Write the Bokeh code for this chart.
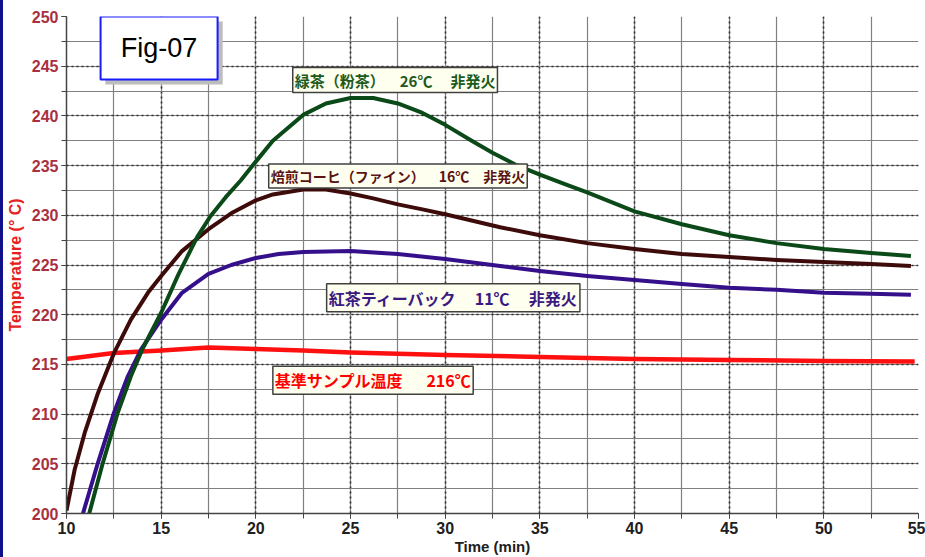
from bokeh.plotting import figure
from bokeh.embed import file_html
from bokeh.resources import INLINE
from bokeh.layouts import row
from bokeh.models import Range1d, SingleIntervalTicker, Label, BoxAnnotation, Div

# ---------------- data ----------------
green_t = [11.2, 11.92, 12.7, 13.4, 14.0, 15.0, 15.9, 16.9, 17.6, 18.4, 19.2, 20.0, 20.9, 22.5,
           23.7, 25.0, 26.2, 27.5, 28.8, 30.0, 31.4, 32.5, 33.7, 35.0, 36.5, 37.5, 40.0, 42.5,
           45.0, 47.5, 50.0, 52.5, 54.6]
green_T = [200.0, 205.1, 210.1, 213.8, 216.5, 220.2, 224.0, 227.8, 229.9, 231.8, 233.5, 235.4, 237.5, 240.1,
           241.25, 241.8, 241.8, 241.25, 240.3, 239.1, 237.5, 236.3, 235.1, 234.1, 233.0, 232.3, 230.4, 229.1,
           228.0, 227.2, 226.6, 226.2, 225.9]

brown_t = [10.0, 10.43, 10.96, 11.66, 12.5, 13.4, 14.3, 15.0, 16.1, 17.5, 18.7, 20.0, 20.9, 22.5,
           23.7, 25.0, 26.2, 27.5, 28.8, 30.0, 32.9, 35.0, 37.5, 40.0, 42.5, 45.0, 47.5, 50.0,
           52.5, 54.6]
brown_T = [200.3, 204.4, 208.1, 212.1, 216.1, 219.5, 222.2, 223.9, 226.4, 228.6, 230.2, 231.5, 232.1, 232.6,
           232.6, 232.2, 231.7, 231.1, 230.6, 230.1, 228.8, 228.0, 227.2, 226.6, 226.1, 225.8, 225.5, 225.3,
           225.1, 224.9]

purple_t = [10.87, 11.66, 12.5, 13.24, 13.94, 15.0, 16.1, 17.5, 18.7, 20.0, 21.2, 22.5, 25.0, 27.5,
            30.0, 32.9, 35.0, 37.5, 40.0, 42.5, 45.0, 47.5, 50.0, 52.5, 54.6]
purple_T = [200.0, 205.1, 210.1, 213.8, 216.5, 219.5, 222.2, 224.1, 225.0, 225.7, 226.1, 226.3, 226.4, 226.1,
            225.6, 224.9, 224.4, 223.9, 223.5, 223.1, 222.7, 222.5, 222.2, 222.1, 222.0]

red_t = [10.0, 12.5, 15.0, 17.5, 20.0, 22.5, 25.0, 30.0, 35.0, 40.0, 45.0, 50.0, 54.8]
red_T = [215.55, 216.15, 216.4, 216.7, 216.55, 216.4, 216.2, 215.95, 215.75, 215.55, 215.45, 215.35, 215.3]

SP = "\u2002"  # en space
TH = "\u2009"  # thin space
label_texts = ["緑茶（粉茶）" + SP * 2 + "26℃" + SP * 2 + TH + "非発火",
               "焙煎コーヒ（ファイン）" + SP * 2 + "16℃" + SP * 2 + "非発火",
               "紅茶ティーバック" + SP * 2 + TH + "11℃" + SP * 2 + TH + "非発火",
               "基準サンプル温度" + SP * 3 + "216℃"]

x_ticks_interval = 5
y_ticks_interval = 5

# ---------------- styles / layout ----------------
C_GREEN = "#0b4a18"
C_BROWN = "#3e0b0b"
C_PURPLE = "#35108a"
C_RED = "#ff1010"

p = figure(width=922, height=557, output_backend="svg", toolbar_location=None,
           x_range=Range1d(10, 55), y_range=Range1d(200, 250),
           min_border_left=63, min_border_right=7, min_border_top=16, min_border_bottom=44,
           margin=0)
p.outline_line_color = None
p.background_fill_color = "white"
p.border_fill_color = "white"

xt = SingleIntervalTicker(interval=x_ticks_interval, num_minor_ticks=2)
yt = SingleIntervalTicker(interval=y_ticks_interval, num_minor_ticks=2)
p.xaxis.ticker = xt
p.yaxis.ticker = yt
p.xgrid.ticker = xt
p.ygrid.ticker = yt

for g in (p.xgrid, p.ygrid):
    g.grid_line_color = "#303030"
    g.grid_line_dash = "2 3"
    g.grid_line_width = 1.6
    g.minor_grid_line_color = "#808080"
    g.minor_grid_line_width = 1.2

for ax in (p.xaxis, p.yaxis):
    ax.axis_line_color = "#444444"
    ax.axis_line_width = 1.5
    ax.major_tick_line_color = "#444444"
    ax.minor_tick_line_color = "#444444"
    ax.major_tick_out = 5
    ax.major_tick_in = 0
    ax.minor_tick_out = 5
    ax.minor_tick_in = 0
    ax.major_label_text_font = "Liberation Sans"
    ax.major_label_text_font_size = "16px"
    ax.major_label_text_font_style = "bold"
    ax.axis_label_text_font = "Liberation Sans"
    ax.axis_label_text_font_style = "bold"

p.yaxis.major_label_text_color = "#a83040"
p.xaxis.major_label_text_color = "#202020"
p.yaxis.axis_label = "Temperature (° C)"
p.yaxis.axis_label_text_color = "#e82020"
p.yaxis.axis_label_text_font_size = "16px"
p.yaxis.axis_label_standoff = 5
p.yaxis.major_label_standoff = 3
p.xaxis.axis_label = "Time (min)"
p.xaxis.axis_label_text_color = "#202020"
p.xaxis.axis_label_text_font_size = "15px"
p.xaxis.axis_label_standoff = 1
p.xaxis.major_label_standoff = 3

# curves
p.line(red_t, red_T, line_color=C_RED, line_width=4.5, line_join="round")
p.line(purple_t, purple_T, line_color=C_PURPLE, line_width=4, line_join="round")
p.line(brown_t, brown_T, line_color=C_BROWN, line_width=4, line_join="round")
p.line(green_t, green_T, line_color=C_GREEN, line_width=4, line_join="round")

# labels
label_pos = [(21.95, 243.6, "#1c5a1c", "15px"), (20.68, 233.95, "#5a1414", "14px"),
             (23.74, 221.7, "#3a1a80", "16px"), (20.9, 213.4, "#ff0000", "16px")]
for txt, (lx, ly, col, fs) in zip(label_texts, label_pos):
    p.add_layout(Label(x=lx, y=ly, text=txt, text_color=col,
                       text_font="Noto Sans CJK JP", text_font_size=fs,
                       text_font_style="bold", text_baseline="middle", text_align="left",
                       background_fill_color="#fffff0", border_line_color="#404040",
                       border_line_width=1.5, padding=2))

# Fig-07 box
p.add_layout(BoxAnnotation(left=12.05, right=18.25, top=249.5, bottom=243.15,
                           fill_color="#bdbdbd", fill_alpha=1, line_color=None, level="annotation"))
p.add_layout(BoxAnnotation(left=11.8, right=17.98, top=250.0, bottom=243.66,
                           fill_color="white", fill_alpha=1, line_color="#1a1aff", line_alpha=1,
                           line_width=2, level="annotation"))
p.add_layout(Label(x=14.89, y=246.8, text="Fig-07", text_color="black",
                   text_font="Liberation Sans", text_font_size="27px",
                   text_baseline="middle", text_align="center"))

# navy border at the left edge of the slide
bar = Div(text="", width=3, height=557, margin=0,
          styles={"background-color": "#10108a", "padding": "0", "margin": "0"})

layout = row(bar, p, spacing=0, margin=0)
open("out.html", "w").write(file_html(layout, INLINE))
